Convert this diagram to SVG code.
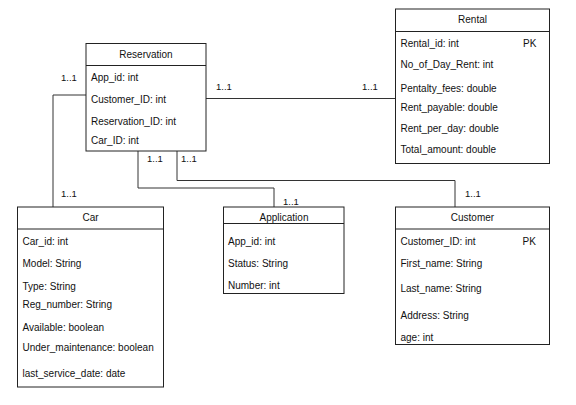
<svg xmlns="http://www.w3.org/2000/svg" width="576" height="405" viewBox="0 0 576 405">
<style>
.box{fill:#fff;stroke:#222;stroke-width:1}
.div{stroke:#222;stroke-width:1}
text{font-family:"Liberation Sans",Arial,sans-serif;font-size:10px;fill:#111}
.t{text-anchor:middle}
.c{fill:none;stroke:#333;stroke-width:1}
.m{font-size:9.5px}
</style>
<rect width="576" height="405" fill="#fff"/>
<g id="connectors">
<polyline class="c" points="86,95 53,95 53,207"/>
<polyline class="c" points="206,98.5 395,98.5"/>
<polyline class="c" points="138,151 138,188 274,188 274,207"/>
<polyline class="c" points="177,151 177,180.5 455,180.5 455,207"/>
<text class="m" x="61" y="81">1..1</text>
<text class="m" x="61" y="197">1..1</text>
<text class="m" x="216" y="90">1..1</text>
<text class="m" x="362" y="90">1..1</text>
<text class="m" x="147" y="162">1..1</text>
<text class="m" x="181" y="162">1..1</text>
<text class="m" x="283" y="205">1..1</text>
<text class="m" x="465" y="197">1..1</text>
</g>
<g id="reservation">
<rect class="box" x="86" y="43.5" width="120" height="107.5"/>
<line class="div" x1="86" y1="65.5" x2="206" y2="65.5"/>
<text class="t" x="146" y="58">Reservation</text>
<text x="91" y="81">App_id: int</text>
<text x="91" y="103">Customer_ID: int</text>
<text x="91" y="125">Reservation_ID: int</text>
<text x="91" y="144">Car_ID: int</text>
</g>
<g id="rental">
<rect class="box" x="395.5" y="9" width="154" height="154.5"/>
<line class="div" x1="395.5" y1="31.5" x2="549.5" y2="31.5"/>
<text class="t" x="472.5" y="23">Rental</text>
<text x="400.5" y="46.5">Rental_id: int</text>
<text x="523" y="46.5">PK</text>
<text x="400.5" y="68">No_of_Day_Rent: int</text>
<text x="400.5" y="91.5">Pentalty_fees: double</text>
<text x="400.5" y="110.5">Rent_payable: double</text>
<text x="400.5" y="132">Rent_per_day: double</text>
<text x="400.5" y="153">Total_amount: double</text>
</g>
<g id="car">
<rect class="box" x="17.5" y="207" width="146" height="180"/>
<line class="div" x1="17.5" y1="229" x2="163.5" y2="229"/>
<text class="t" x="90.5" y="220.5">Car</text>
<text x="22.5" y="244.5">Car_id: int</text>
<text x="22.5" y="266.5">Model: String</text>
<text x="22.5" y="289.5">Type: String</text>
<text x="22.5" y="308">Reg_number: String</text>
<text x="22.5" y="330.5">Available: boolean</text>
<text x="22.5" y="350.5">Under_maintenance: boolean</text>
<text x="22.5" y="376.5">last_service_date: date</text>
</g>
<g id="application">
<rect class="box" x="223.5" y="207" width="120.5" height="86.5"/>
<line class="div" x1="223.5" y1="223.5" x2="344" y2="223.5"/>
<text class="t" x="284" y="221">Application</text>
<text x="228" y="244.5">App_id: int</text>
<text x="228" y="267">Status: String</text>
<text x="228" y="289">Number: int</text>
</g>
<g id="customer">
<rect class="box" x="395.5" y="207" width="154" height="137.5"/>
<line class="div" x1="395.5" y1="229" x2="549.5" y2="229"/>
<text class="t" x="472.5" y="221">Customer</text>
<text x="400.5" y="244.5">Customer_ID: int</text>
<text x="522.5" y="244.5">PK</text>
<text x="400.5" y="266.5">First_name: String</text>
<text x="400.5" y="292">Last_name: String</text>
<text x="400.5" y="318.5">Address: String</text>
<text x="400.5" y="340.5">age: int</text>
</g>
</svg>
